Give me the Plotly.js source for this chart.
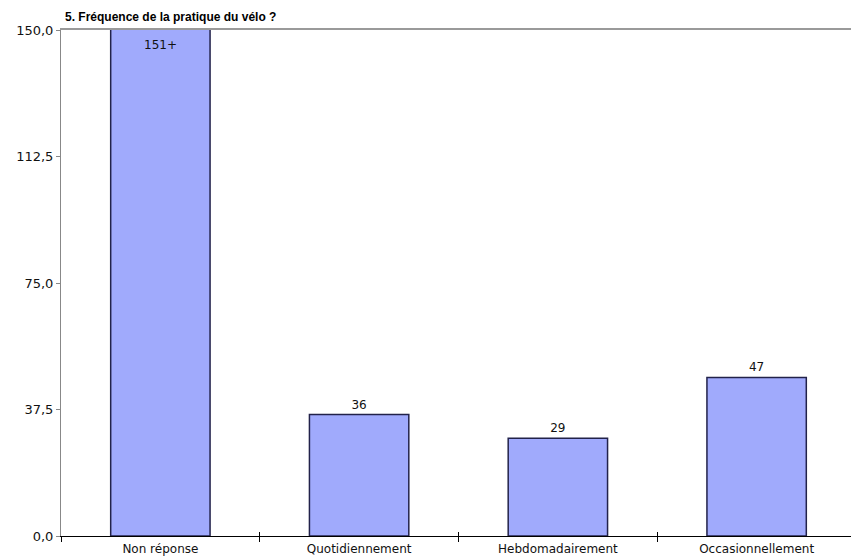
<!DOCTYPE html>
<html>
<head>
<meta charset="utf-8">
<script src="https://cdn.plot.ly/plotly-3.0.1.min.js"></script>
<style>html,body{margin:0;padding:0;background:#fff;overflow:hidden;width:851px;height:556px;}#chart{width:856px;height:556px;}</style>
</head>
<body>
<div id="chart"></div>
<script>
var categories = ["Non réponse", "Quotidiennement", "Hebdomadairement", "Occasionnellement"];
var values = [151, 36, 29, 47];
var valueLabels = ["151+", "36", "29", "47"];
var yTickVals = [0, 37.5, 75, 112.5, 150];
var yTickText = ["0,0", "37,5", "75,0", "112,5", "150,0"];
var titleText = "5. Fréquence de la pratique du vélo ?";

var yMax = yTickVals[yTickVals.length - 1];
var W = 856;

// bars above the axis maximum get their label inside, at the top of the plot
var textPos = values.map(function (v) { return v > yMax ? "none" : "outside"; });
var clippedNotes = [];
values.forEach(function (v, i) {
  if (v > yMax) {
    clippedNotes.push({
      x: categories[i], xref: "x", y: 1, yref: "y domain",
      yanchor: "top", yshift: -6, showarrow: false, text: valueLabels[i],
      font: {family: "DejaVu Sans", size: 12, color: "#111"}
    });
  }
});

var bar = {
  type: "bar",
  x: categories,
  y: values,
  text: valueLabels,
  textposition: textPos,
  cliponaxis: true,
  textfont: {family: "DejaVu Sans", size: 12, color: "#111"},
  outsidetextfont: {family: "DejaVu Sans", size: 12, color: "#111"},
  marker: {color: "#a0aafc", line: {color: "#22224a", width: 1.5}},
  hoverinfo: "none"
};

var layout = {
  width: W, height: 556,
  margin: {l: 61, r: 0, t: 30, b: 20, pad: 0},
  paper_bgcolor: "#fff", plot_bgcolor: "#fff",
  showlegend: false,
  bargap: 0.5,
  annotations: clippedNotes,
  title: {text: titleText, x: 65/W, xanchor: "left", y: 1 - 17/556, yanchor: "middle",
          font: {family: "Liberation Sans", size: 12, color: "#000", weight: "bold"}},
  xaxis: {
    type: "category", range: [-0.5, 3.5],
    showline: true, linecolor: "#000", linewidth: 1,
    ticks: "outside", tickson: "boundaries", ticklen: 5, tickcolor: "#000", tickwidth: 1,
    ticklabelstandoff: 2,
    showgrid: false, zeroline: false,
    tickfont: {family: "DejaVu Sans", size: 12, color: "#111"}
  },
  xaxis2: {
    type: "category", overlaying: "x", anchor: "y", side: "bottom",
    range: [-0.5, 3.5], showline: false,
    ticks: "inside", tickson: "boundaries", ticklen: 4, tickcolor: "#000", tickwidth: 1,
    showticklabels: false, showgrid: false, zeroline: false
  },
  xaxis3: {
    type: "category", overlaying: "x", anchor: "y", side: "top",
    range: [-0.5, 3.5], showline: true, linecolor: "#9a9a9a", linewidth: 2,
    ticks: "", showticklabels: false, showgrid: false, zeroline: false
  },
  yaxis: {
    range: [0, yMax],
    tickvals: yTickVals, ticktext: yTickText,
    showline: true, linecolor: "#888", linewidth: 1,
    ticks: "outside", ticklen: 4, tickcolor: "#888",
    showgrid: false, zeroline: false,
    tickfont: {family: "DejaVu Sans", size: 13, color: "#111"}
  }
};

var ghost2 = {type: "bar", x: categories, y: [null, null, null, null], xaxis: "x2", hoverinfo: "none", showlegend: false};
var ghost3 = {type: "bar", x: categories, y: [null, null, null, null], xaxis: "x3", hoverinfo: "none", showlegend: false};

Plotly.newPlot("chart", [bar, ghost2, ghost3], layout, {displayModeBar: false, staticPlot: true});
</script>
</body>
</html>
